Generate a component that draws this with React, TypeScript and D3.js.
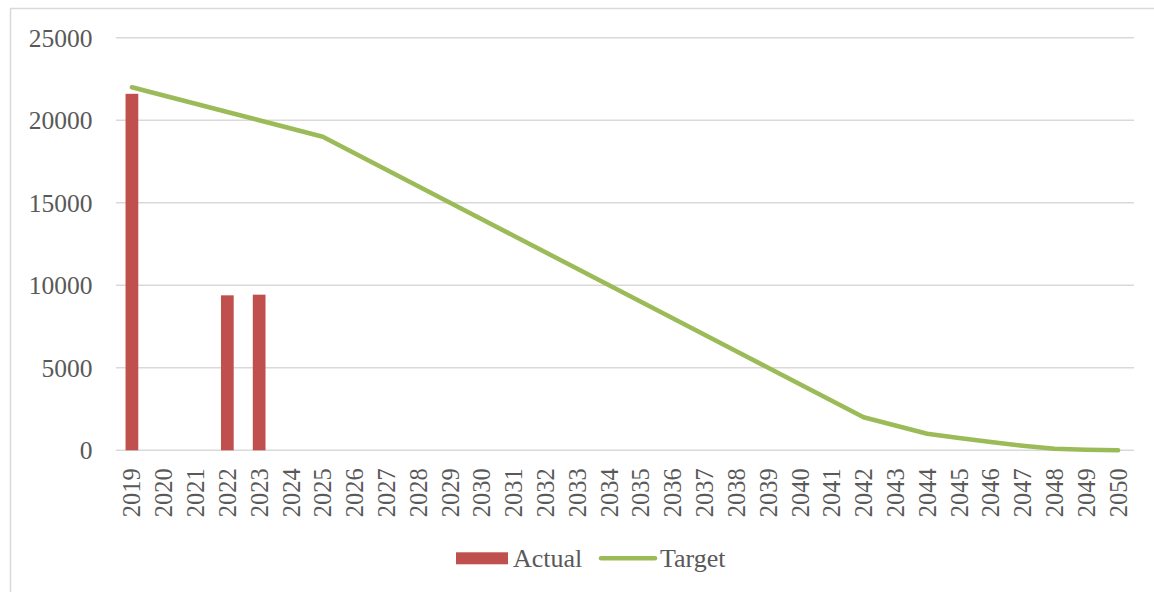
import * as d3 from "d3";
import React from "react";

const years = [
  "2019", "2020", "2021", "2022", "2023", "2024", "2025", "2026", "2027", "2028", "2029",
  "2030", "2031", "2032", "2033", "2034", "2035", "2036", "2037", "2038", "2039", "2040",
  "2041", "2042", "2043", "2044", "2045", "2046", "2047", "2048", "2049", "2050",
];

// Actual: only a few years reported
const actualYears = ["2019", "2022", "2023"];
const actualValues = [21600, 9390, 9430];

// Target trajectory
const targetValues = [
  22000, 21500, 21000, 20500, 20000, 19500, 19000, 18000, 17000, 16000, 15000,
  14000, 13000, 12000, 11000, 10000, 9000, 8000, 7000, 6000, 5000, 4000,
  3000, 2000, 1500, 1000, 750, 500, 280, 100, 40, 0,
];

const yTicks = [0, 5000, 10000, 15000, 20000, 25000];

const W = 1154;
const H = 592;
const plot = { left: 116, right: 1134, top: 37.7, bottom: 450.3 };
const textColor = "#595959";
const font = "'Liberation Serif', 'Times New Roman', serif";

export default function App() {
  const x = d3.scaleBand().domain(years).range([plot.left, plot.right]).padding(0);
  const y = d3.scaleLinear().domain([0, 25000]).range([plot.bottom, plot.top]);
  const bw = x.bandwidth();
  const barW = bw * 0.4;
  const cx = (d: string) => (x(d) as number) + bw / 2;

  const line = d3
    .line<number>()
    .x((_, i) => cx(years[i]))
    .y((v) => y(v));

  return (
    <svg
      width={W}
      height={H}
      style={{ position: "absolute", left: 0, top: 0, display: "block", background: "#fff" }}
    >
      <rect x={10.5} y={8.5} width={W + 20} height={H + 20} fill="#fff" stroke="#D9D9D9" strokeWidth={1.5} />

      {/* gridlines + y labels */}
      {yTicks.map((t) => (
        <g key={t}>
          <line x1={plot.left} x2={plot.right} y1={y(t)} y2={y(t)} stroke="#D9D9D9" strokeWidth={1.5} />
          <text
            x={92.5}
            y={y(t)}
            dy="0.35em"
            textAnchor="end"
            fontFamily={font}
            fontSize={25.5}
            fill={textColor}
          >
            {t}
          </text>
        </g>
      ))}

      {/* bars */}
      {actualYears.map((yr, i) => (
        <rect
          key={yr}
          x={cx(yr) - barW / 2}
          y={y(actualValues[i])}
          width={barW}
          height={y(0) - y(actualValues[i])}
          fill="#C0504D"
        />
      ))}

      {/* target line */}
      <path
        d={line(targetValues) || ""}
        fill="none"
        stroke="#9BBB59"
        strokeWidth={4.5}
        strokeLinecap="round"
        strokeLinejoin="round"
      />

      {/* x labels */}
      {years.map((yr) => (
        <text
          key={yr}
          transform={`translate(${cx(yr)},${plot.bottom + 18}) rotate(-90)`}
          textAnchor="end"
          dy="0.35em"
          fontFamily={font}
          fontSize={24.5}
          fill={textColor}
        >
          {yr}
        </text>
      ))}

      {/* legend */}
      <rect x={456} y={552.3} width={52} height={12} fill="#C0504D" />
      <text x={513} y={566.5} fontFamily={font} fontSize={26} fill={textColor}>
        Actual
      </text>
      <line x1={601} x2={655} y1={558.3} y2={558.3} stroke="#9BBB59" strokeWidth={4.5} strokeLinecap="round" />
      <text x={660} y={566.5} fontFamily={font} fontSize={26} fill={textColor}>
        Target
      </text>
    </svg>
  );
}
